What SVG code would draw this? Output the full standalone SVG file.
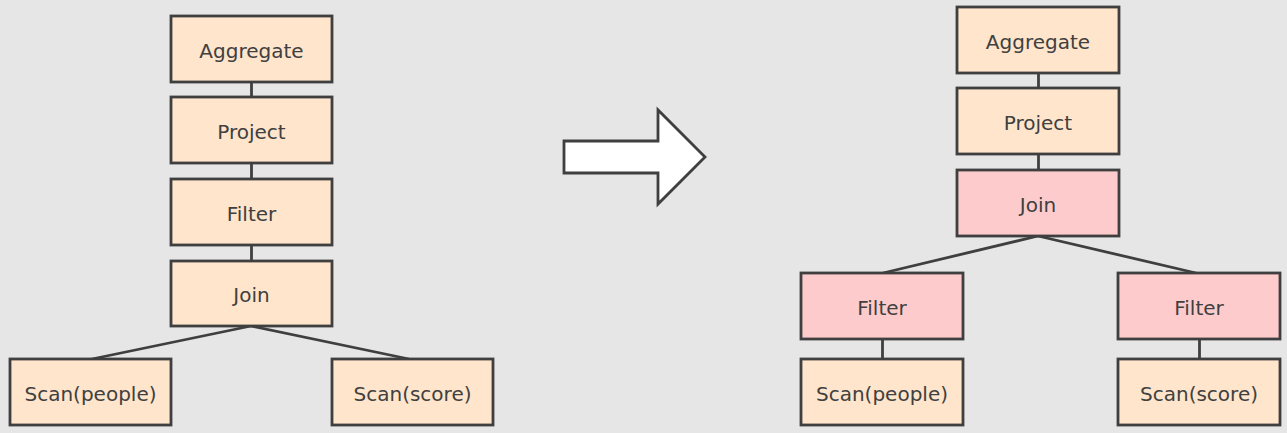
<svg xmlns="http://www.w3.org/2000/svg" width="1287" height="433" viewBox="0 0 1287 433">
<style>
.box{stroke:#3f3f3f;stroke-width:2.8}
.peach{fill:#fee5cb}
.pink{fill:#fecbcd}
.lbl{font-family:"DejaVu Sans",Verdana,sans-serif;font-size:20px;fill:#404040;text-anchor:middle}
.edge{stroke:#3f3f3f;stroke-width:2.8;fill:none}
</style>
<rect width="1287" height="433" fill="#e6e6e6"/>
<g id="connectors">
<line class="edge" x1="251.5" y1="82" x2="251.5" y2="97"/>
<line class="edge" x1="251.5" y1="163" x2="251.5" y2="179"/>
<line class="edge" x1="251.5" y1="245" x2="251.5" y2="261"/>
<line class="edge" x1="251" y1="326" x2="92" y2="359"/>
<line class="edge" x1="251" y1="326" x2="409" y2="359"/>
<line class="edge" x1="1038.5" y1="73" x2="1038.5" y2="88"/>
<line class="edge" x1="1038.5" y1="154" x2="1038.5" y2="170"/>
<line class="edge" x1="1038" y1="236" x2="883" y2="273"/>
<line class="edge" x1="1038" y1="236" x2="1196" y2="273"/>
<line class="edge" x1="882.5" y1="339" x2="882.5" y2="359"/>
<line class="edge" x1="1199.5" y1="339" x2="1199.5" y2="359"/>
</g>
<g id="arrow">
<polygon points="564,141 658,141 658,110 705,157 658,204 658,173 564,173" fill="#ffffff" stroke="#3f3f3f" stroke-width="2.8" stroke-linejoin="miter"/>
</g>
<g id="l-aggregate"><rect class="box peach" x="171" y="16" width="161" height="66"/><text class="lbl" x="251.5" y="57.5">Aggregate</text></g>
<g id="l-project"><rect class="box peach" x="171" y="97" width="161" height="66"/><text class="lbl" x="251.5" y="138.5">Project</text></g>
<g id="l-filter"><rect class="box peach" x="171" y="179" width="161" height="66"/><text class="lbl" x="251.5" y="220.5">Filter</text></g>
<g id="l-join"><rect class="box peach" x="171" y="261" width="161" height="65"/><text class="lbl" x="251.5" y="302">Join</text></g>
<g id="l-scan-people"><rect class="box peach" x="10" y="359" width="161" height="66"/><text class="lbl" x="90.5" y="400.5">Scan(people)</text></g>
<g id="l-scan-score"><rect class="box peach" x="332" y="359" width="161" height="66"/><text class="lbl" x="412.5" y="400.5">Scan(score)</text></g>
<g id="r-aggregate"><rect class="box peach" x="957" y="7" width="162" height="66"/><text class="lbl" x="1038" y="48.5">Aggregate</text></g>
<g id="r-project"><rect class="box peach" x="957" y="88" width="162" height="66"/><text class="lbl" x="1038" y="129.5">Project</text></g>
<g id="r-join"><rect class="box pink" x="957" y="170" width="162" height="66"/><text class="lbl" x="1038" y="211.5">Join</text></g>
<g id="r-filter-left"><rect class="box pink" x="801" y="273" width="162" height="66"/><text class="lbl" x="882" y="314.5">Filter</text></g>
<g id="r-filter-right"><rect class="box pink" x="1118" y="273" width="162" height="66"/><text class="lbl" x="1199" y="314.5">Filter</text></g>
<g id="r-scan-people"><rect class="box peach" x="801" y="359" width="162" height="66"/><text class="lbl" x="882" y="400.5">Scan(people)</text></g>
<g id="r-scan-score"><rect class="box peach" x="1118" y="359" width="162" height="66"/><text class="lbl" x="1199" y="400.5">Scan(score)</text></g>
</svg>
